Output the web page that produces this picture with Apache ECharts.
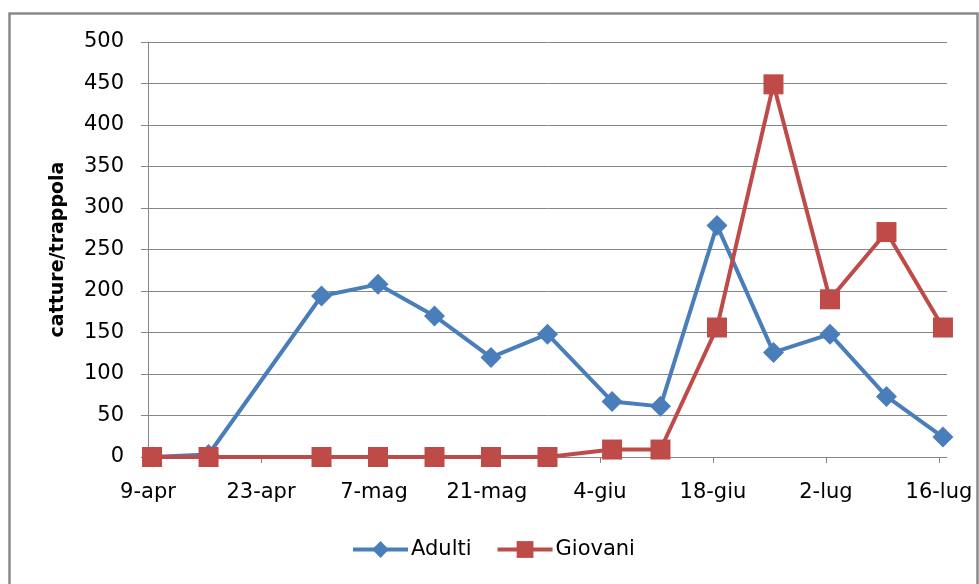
<!DOCTYPE html>
<html>
<head>
<meta charset="utf-8">
<script src="https://cdn.jsdelivr.net/npm/echarts@6/dist/echarts.min.js"></script>
<style>
html,body{margin:0;padding:0;background:#fff;}
#c{width:979px;height:584px;}
</style>
</head>
<body>
<div id="c"></div>
<script>
// Sampling dates (ISO) and values
const dates = ['2010-04-09','2010-04-16','2010-04-30','2010-05-07','2010-05-14','2010-05-21','2010-05-28','2010-06-05','2010-06-11','2010-06-18','2010-06-25','2010-07-02','2010-07-09','2010-07-16'];
const adulti = [0, 3, 194, 208, 170, 120, 148, 67, 61, 279, 126, 148, 73, 24];
const giovani = [0, 0, 0, 0, 0, 0, 0, 9, 9, 156, 449, 190, 271, 156];
const tickDates = ['2010-04-09','2010-04-23','2010-05-07','2010-05-21','2010-06-04','2010-06-18','2010-07-02','2010-07-16'];
const tickLabels = ['9-apr','23-apr','7-mag','21-mag','4-giu','18-giu','2-lug','16-lug'];
const axisStart = '2010-04-09';
const axisEnd = '2010-07-17';
const yTitle = 'catture/trappola';
const seriesNames = ['Adulti', 'Giovani'];

const DAY = 86400000;
const t0 = Date.parse(axisStart);
const dayOf = d => (Date.parse(d) - t0) / DAY;
const tickDays = tickDates.map(dayOf);
const labelMap = {};
tickDays.forEach((d, i) => { labelMap[d] = tickLabels[i]; });
// points sit in the middle of their day (date axis, between tick marks)
const toPairs = vals => vals.map((v, i) => [dayOf(dates[i]) + 0.5, v]);

const FONT = 'DejaVu Sans';
const GRAY = '#868686';
const chart = echarts.init(document.getElementById('c'), null, {renderer: 'canvas'});
chart.setOption({
  backgroundColor: '#fff',
  animation: false,
  grid: {left: 148, top: 42, width: 799, height: 415, containLabel: false},
  xAxis: {
    type: 'value',
    min: 0,
    max: dayOf(axisEnd),
    axisLine: {show: true, onZero: false, lineStyle: {color: GRAY, width: 1}},
    axisTick: {show: true, length: 6, lineStyle: {color: GRAY}, customValues: tickDays},
    axisLabel: {
      customValues: tickDays,
      formatter: v => labelMap[v] || '',
      fontFamily: FONT, fontSize: 21, color: '#000', margin: 25
    },
    splitLine: {show: false}
  },
  yAxis: {
    type: 'value',
    min: 0, max: 500, interval: 50,
    name: yTitle,
    nameLocation: 'middle',
    nameGap: 80,
    nameTextStyle: {fontFamily: FONT, fontSize: 19, fontWeight: 'bold', color: '#000'},
    axisLine: {show: true, lineStyle: {color: GRAY, width: 1}},
    axisTick: {show: true, length: 7, lineStyle: {color: GRAY}},
    axisLabel: {fontFamily: FONT, fontSize: 21, color: '#000', margin: 24},
    splitLine: {show: true, lineStyle: {color: GRAY, width: 1}}
  },
  legend: {
    left: 351, top: 539, padding: 0,
    itemWidth: 55, itemHeight: 21, itemGap: 24,
    lineStyle: {width: 4},
    textStyle: {fontFamily: FONT, fontSize: 21, color: '#000', padding: [0,0,0,-2]},
    data: seriesNames
  },
  series: [
    {
      name: seriesNames[0], type: 'line', data: toPairs(adulti),
      symbol: 'diamond', symbolSize: [21, 21],
      lineStyle: {color: '#4A7EBB', width: 4},
      itemStyle: {color: '#4A7EBB'},
      z: 2
    },
    {
      name: seriesNames[1], type: 'line', data: toPairs(giovani),
      symbol: 'rect', symbolSize: 20,
      lineStyle: {color: '#BE4B48', width: 4},
      itemStyle: {color: '#BE4B48'},
      z: 3
    }
  ],
  graphic: [{
    type: 'rect', z: 100, silent: true,
    shape: {x: 9.5, y: 13.5, width: 968, height: 600},
    style: {fill: 'none', stroke: '#898989', lineWidth: 2.5}
  }]
});
</script>
</body>
</html>
